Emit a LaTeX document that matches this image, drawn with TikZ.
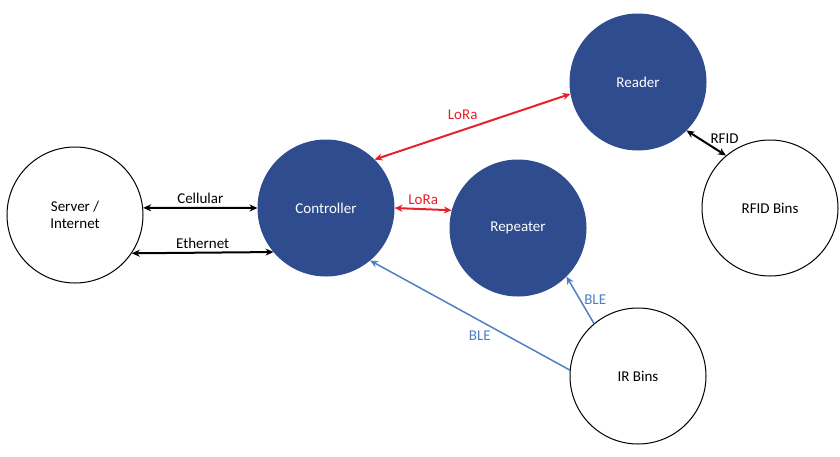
\documentclass[tikz,border=0pt]{standalone}
\usepackage{fontspec}
\setmainfont{Carlito}
\usetikzlibrary{arrows.meta}
\definecolor{nblue}{HTML}{2E4C8E}
\definecolor{lred}{HTML}{E8202A}
\definecolor{lblue}{HTML}{4F7FC4}
\begin{document}
\begin{tikzpicture}[x=1pt,y=-1pt,
  wc/.style={circle,draw=black,line width=1pt,fill=white,minimum size=136pt,inner sep=0pt,font=\fontsize{15}{17}\selectfont,align=center},
  bc/.style={circle,draw=nblue,line width=1pt,fill=nblue,text=white,minimum size=136pt,inner sep=0pt,font=\fontsize{15}{17}\selectfont},
  ar/.style={{Stealth[length=8pt,width=7pt]}-{Stealth[length=8pt,width=7pt]},line width=2pt},
  lb/.style={font=\fontsize{15}{17}\selectfont}]
\useasboundingbox (0,0) rectangle (840,456);
\node[wc] (srv) at (75,215) {Server /\\Internet};
\node[bc] (ctl) at (326,208) {Controller};
\node[bc] (rdr) at (638,82) {Reader};
\node[bc] (rep) at (518,228) {Repeater};
\node[wc] (rfid) at (770,208) {RFID Bins};
\node[wc] (ir) at (638,376) {IR Bins};
\draw[ar] (srv.6) -- (ctl.180) node[midway,above,lb] {Cellular};
\draw[ar] (srv.-34) -- (ctl.-140) node[midway,above,lb] {Ethernet};
\draw[ar,lred] (ctl.45) -- (rdr.190) node[pos=0.45,above,lb,yshift=6pt] {LoRa};
\draw[ar,lred] (ctl.0) -- (rep.165) node[midway,above,lb] {LoRa};
\draw[ar,black] (rdr.-45) -- (rfid.130) node[midway,right,lb,yshift=4pt] {RFID};
\draw[-{Stealth[length=8pt,width=7pt]},line width=1.5pt,lblue] (ir.175) -- (ctl.-50) node[pos=0.45,below,lb,yshift=-6pt] {BLE};
\draw[-{Stealth[length=8pt,width=7pt]},line width=1.5pt,lblue] (ir.130) -- (rep.-45) node[midway,right,lb] {BLE};
\end{tikzpicture}
\end{document}
